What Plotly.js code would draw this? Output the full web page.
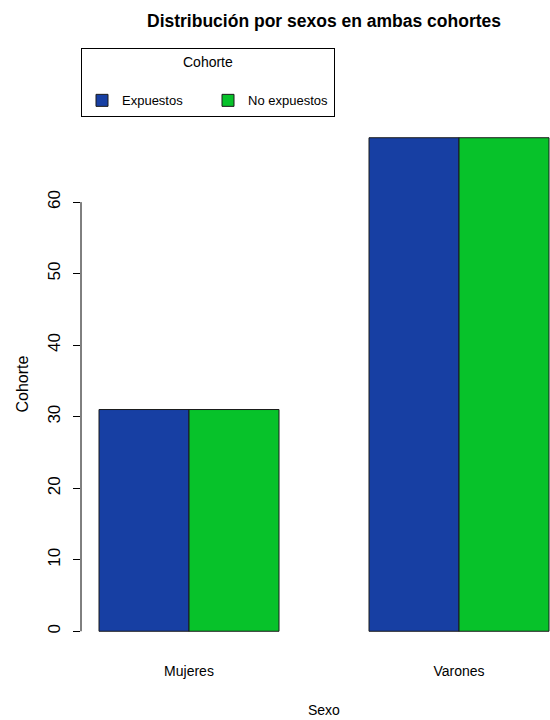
<!DOCTYPE html>
<html>
<head>
<meta charset="utf-8">
<script src="https://cdn.plot.ly/plotly-3.0.1.min.js"></script>
<style>html,body{margin:0;padding:0;background:#fff}#chart{width:550px;height:720px}</style>
</head>
<body>
<div id="chart"></div>
<script>
const categories = ['Mujeres', 'Varones'];
const expuestos = [31, 69];
const noExpuestos = [31, 69];
const seriesNames = ['Expuestos', 'No expuestos'];
const yTicks = [0, 10, 20, 30, 40, 50, 60];
const chartTitle = 'Distribución por sexos en ambas cohortes';
const xTitle = 'Sexo';
const yTitle = 'Cohorte';
const legendTitle = 'Cohorte';

const sans = '"Liberation Sans", Arial, Helvetica, sans-serif';

const traces = [
  {type: 'bar', name: seriesNames[0], x: categories, y: expuestos,
   marker: {color: '#173fa3', line: {color: '#1a1a1a', width: 1}}},
  {type: 'bar', name: seriesNames[1], x: categories, y: noExpuestos,
   marker: {color: '#07c22a', line: {color: '#1a1a1a', width: 1}}}
];

const layout = {
  width: 550, height: 720,
  margin: {l: 81, r: 0, t: 118, b: 69, pad: 0},
  paper_bgcolor: '#fff', plot_bgcolor: '#fff',
  barmode: 'group', bargap: 1/3, bargroupgap: 0,
  font: {family: sans, color: '#000', size: 14},
  title: {text: '<b>' + chartTitle + '</b>', font: {family: sans, size: 17.5, color: '#000'},
          xref: 'container', x: 324/550, xanchor: 'center', yref: 'container', y: 1 - 21/720, yanchor: 'middle'},
  xaxis: {type: 'category', range: [-0.4, 1.337], showline: false, showgrid: false, zeroline: false,
          ticks: '', tickfont: {family: sans, size: 14, color: '#000'}, ticklabelstandoff: 10, fixedrange: true},
  yaxis: {range: [-2.76, 71.76], showline: false, showgrid: false, zeroline: false,
          tickmode: 'array', tickvals: yTicks, ticktext: yTicks.map(String),
          ticks: 'outside', ticklen: 7, tickwidth: 1, tickcolor: '#000', tickangle: -90,
          tickfont: {family: sans, size: 17, color: '#000'}, ticklabelstandoff: 6, fixedrange: true},
  shapes: [{type: 'line', xref: 'paper', yref: 'y', x0: 0, x1: 0, y0: yTicks[0], y1: yTicks[yTicks.length - 1],
            line: {color: '#000', width: 1}}],
  annotations: [
    {text: xTitle, xref: 'paper', yref: 'paper', x: (324 - 81) / 469, y: (651 - 710) / 533,
     xanchor: 'center', yanchor: 'middle', showarrow: false, font: {family: sans, size: 14, color: '#000'}},
    {text: yTitle, xref: 'paper', yref: 'paper', x: (22 - 81) / 469, y: 0.5, textangle: -90,
     xanchor: 'center', yanchor: 'middle', showarrow: false, font: {family: sans, size: 16, color: '#000'}}
  ],
  showlegend: true,
  legend: {orientation: 'h', x: 0, y: (651 - 48) / 533, xanchor: 'left', yanchor: 'top',
           bordercolor: '#000', borderwidth: 1, bgcolor: '#fff',
           font: {family: sans, size: 13, color: '#000'},
           title: {text: legendTitle + '<br><span style="font-size:5px"> </span>', side: 'top center', font: {family: sans, size: 14, color: '#000'}},
           entrywidth: 81, entrywidthmode: 'pixels', traceorder: 'normal'}
};

Plotly.newPlot('chart', traces, layout, {displayModeBar: false, staticPlot: true});
</script>
</body>
</html>
